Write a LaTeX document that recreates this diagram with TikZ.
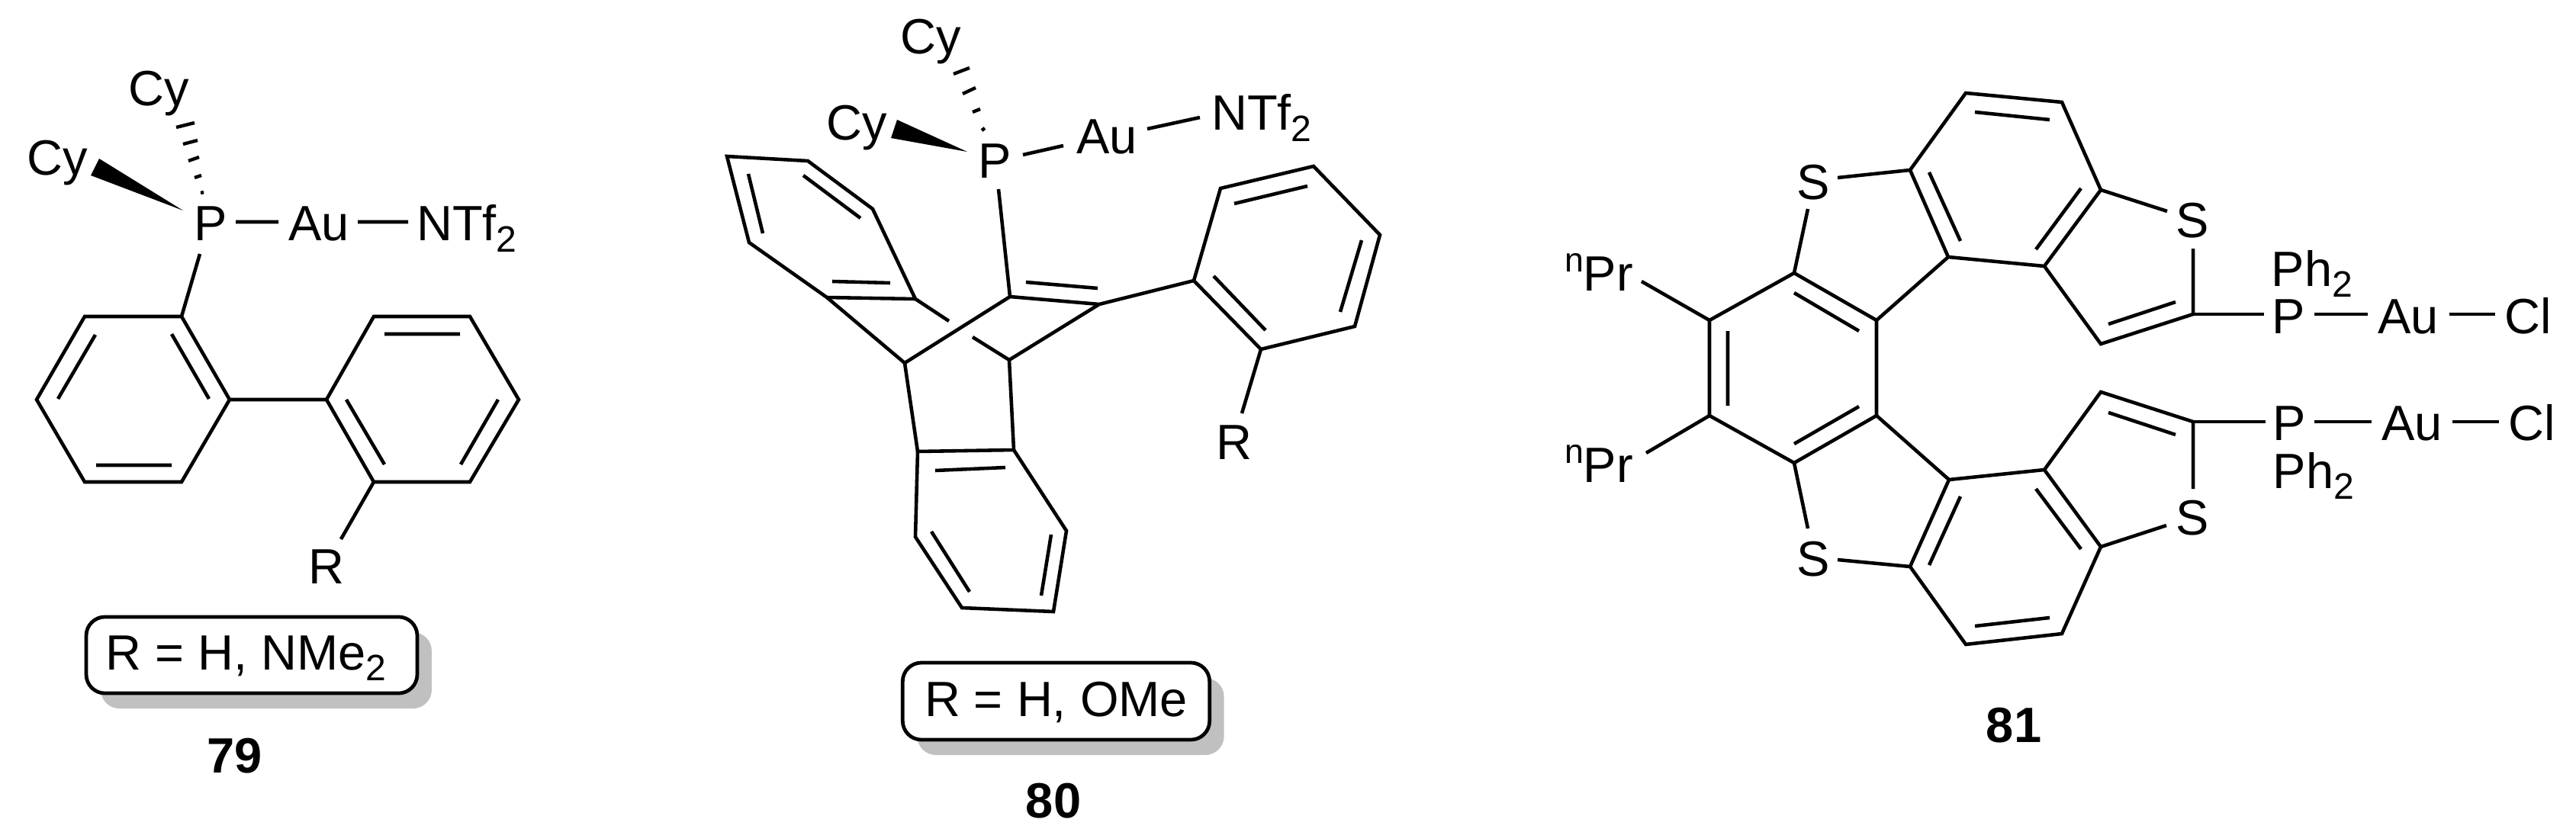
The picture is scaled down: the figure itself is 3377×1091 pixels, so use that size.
\documentclass[tikz,border=0pt]{standalone}
\usepackage{fontspec}
\setmainfont{Liberation Sans}
\usetikzlibrary{shadows}
\definecolor{shadowgray}{RGB}{192,192,192}
\newcommand{\subtwo}{\raisebox{-8pt}{\fontsize{27.4}{28}\selectfont 2}}
\newcommand{\supn}{\raisebox{14.2pt}{\fontsize{25.5}{26}\selectfont n}}
\tikzset{
  atom/.style={anchor=base,inner sep=0pt,outer sep=0pt,font=\fontsize{37}{40}\selectfont},
  cmpd/.style={anchor=base,inner sep=0pt,outer sep=0pt,font=\fontsize{37}{40}\selectfont\bfseries},
  bond/.style={line width=2.6pt,line cap=butt,line join=miter,miter limit=3},
  hashbar/.style={line width=2.5pt},
  wedgebond/.style={fill=black,draw=none},
  rbox/.style={draw=black,fill=white,line width=2.7pt,rounded corners=14pt,inner sep=0pt,
    font=\fontsize{37}{40}\selectfont,text height=26pt,text depth=3.4pt,anchor=center,
    drop shadow={shadow xshift=10.8pt,shadow yshift=-11.4pt,opacity=1,fill=shadowgray}}
}
\begin{document}
\begin{tikzpicture}[x=0.02cm,y=-0.02cm]
\useasboundingbox (0,0) rectangle (3377,1091);
% ---------- vertices of 79, 80, 81
\foreach \n/\x/\y in {
 a1/111/415,a2/238/415,a3/301/524,a4/238/632,a5/111/632,a6/48/524,
 ai1/125/439,ai2/76/523,ai3/225/438,ai4/274/523,ai5/126/610,ai6/225/610,
 b1/490/415,b2/616/415,b3/680/524,b4/616/632,b5/490/632,b6/428/524,
 bi1/504/438,bi2/603/438,bi3/454/524,bi4/504/609,bi5/653/524,bi6/604/609,
 pa/262/333,pb/309/291,ub/365/291,uc/469/291,nc/535/291,rb/447/707,
 w1/240/276,w2/130/208,w3/119/230,
 %
 q1/1341/203,q2/1394/191,q3/1504/169,q4/1573/154,q5/1309/248,
 e1/1324/389,e2/1441/399,ei1/1345/370,ei2/1439/378,
 f1/1565/368,f2/1600/247,f3/1722/218,f4/1809/308,f5/1776/428,f6/1653/458,
 fi1/1618/267,fi2/1714/244,fi3/1785/315,fi4/1757/409,fi5/1591/362,fi6/1659/433,
 r8/1628/542,
 g1/953/205,g2/1059/211,g3/1144/274,g4/1200/392,g5/1084/390,g6/982/318,
 gi1/981/228,gi2/1000/306,gi3/1053/230,gi4/1128/286,gi5/1091/369,gi6/1167/371,
 h1/1186/476,h2/1323/472,h3/1244/421,h4/1275/442,
 k1/1203/592,k2/1329/590,k3/1398/696,k4/1381/802,k5/1261/797,k6/1200/704,
 ki1/1226/617,ki2/1318/613,ki3/1221/697,ki4/1271/776,ki5/1378/701,ki6/1365/781,
 v1/1268/199,v2/1176/157,v3/1168/181,
 %
 c1/2241/420,c2/2352/358,c3/2460/420,c4/2460/545,c5/2352/607,c6/2241/545,
 ci1/2265/434,ci2/2265/532,ci3/2352/384,ci4/2437/434,ci5/2437/533,ci6/2352/582,
 s1a/2370/274,s1b/2409/233,s2a/2370/693,s2b/2409/734,
 pr1/2152/369,pr2/2158/594,
 m1/2504/223,m2/2577/122,m3/2703/134,m4/2754/249,m5/2680/349,m6/2554/337,
 mi1/2589/147,mi2/2687/157,mi3/2529/226,mi4/2570/316,mi5/2728/247,mi6/2669/327,
 n1/2504/743,n2/2577/845,n3/2703/831,n4/2754/717,n5/2680/616,n6/2555/629,
 ni1/2589/821,ni2/2687/810,ni3/2529/741,ni4/2570/651,ni5/2728/720,ni6/2669/641,
 t1/2754/451,t2/2875/412,t3/2875/326,t4/2841/277,ti1/2764/425,ti2/2852/396,
 o1/2754/514,o2/2875/553,o3/2875/641,o4/2840/689,oi1/2764/541,oi2/2852/570,
 x1/2968/412,x2/3034/412,x3/3104/412,x4/3211/412,x5/3271/412,
 y1/2970/553,y2/3034/553,y3/3109/553,y4/3215/553,y5/3276/553}
 \coordinate (\n) at (\x,\y);
% ---------- compound 79
\node[atom] (P79) at (276,316) {P};
\node[atom] (Au79) at (418,316) {Au};
\node[atom] (N79) at (612,316) {NTf\subtwo};
\node[atom] (CyA79) at (208,139) {Cy};
\node[atom] (CyB79) at (75,230) {Cy};
\node[atom] (R79) at (428,765) {R};
\node[rbox,minimum width=247pt,minimum height=57pt] (box79) at (330,859) {R = H, NMe\subtwo\kern8.5pt};
\node[cmpd] (lab79) at (308,1013) {79};
\draw[bond] (a1)--(a2)--(a3)--(a4)--(a5)--(a6)--cycle;
\draw[bond] (ai1)--(ai2) (ai3)--(ai4) (ai5)--(ai6);
\draw[bond] (b1)--(b2)--(b3)--(b4)--(b5)--(b6)--cycle;
\draw[bond] (bi1)--(bi2) (bi3)--(bi4) (bi5)--(bi6);
\draw[bond] (a3)--(b6) (pa)--(a2) (pb)--(ub) (uc)--(nc) (b5)--(rb);
\path[wedgebond] (w1)--(w2)--(w3)--cycle;
\draw[hashbar] (231,167)--(255,161) (240,189)--(259,184) (247,211)--(261,206) (255,233)--(264,230) (263,253)--(267,252);
% ---------- compound 80
\node[atom] (P80) at (1304,234) {P};
\node[atom] (Au80) at (1451,202) {Au};
\node[atom] (N80) at (1654,171) {NTf\subtwo};
\node[atom] (CyA80) at (1220,71) {Cy};
\node[atom] (CyB80) at (1123,184) {Cy};
\node[atom] (R80) at (1618,602) {R};
\node[rbox,minimum width=229pt,minimum height=57.5pt] (box80) at (1384.5,919.5) {R = H, OMe};
\node[cmpd] (lab80) at (1381,1072) {80};
\draw[bond] (q1)--(q2) (q3)--(q4) (q5)--(e1) (e1)--(e2) (ei1)--(ei2) (e2)--(f1) (f6)--(r8);
\draw[bond] (f1)--(f2)--(f3)--(f4)--(f5)--(f6)--cycle;
\draw[bond] (fi1)--(fi2) (fi3)--(fi4) (fi5)--(fi6);
\draw[bond] (g1)--(g2)--(g3)--(g4)--(g5)--(g6)--cycle;
\draw[bond] (gi1)--(gi2) (gi3)--(gi4) (gi5)--(gi6);
\draw[bond] (g5)--(h1)--(e1) (g4)--(h3) (h4)--(h2)--(e2);
\draw[bond] (h1)--(k1) (h2)--(k2);
\draw[bond] (k1)--(k2)--(k3)--(k4)--(k5)--(k6)--cycle;
\draw[bond] (ki1)--(ki2) (ki3)--(ki4) (ki5)--(ki6);
\path[wedgebond] (v1)--(v2)--(v3)--cycle;
\draw[hashbar] (1250,97)--(1271,89) (1262,123)--(1279,115) (1275,147)--(1285,143) (1287,171)--(1291,168);
% ---------- compound 81
\node[atom] (S1) at (2377,261) {S};
\node[atom] (S2) at (2377,755) {S};
\node[atom] (S3) at (2874,311) {S};
\node[atom] (S4) at (2874,701) {S};
\node[atom] (Pr1) at (2096,381) {\supn Pr};
\node[atom] (Pr2) at (2096,632) {\supn Pr};
\node[atom] (P81a) at (3000,437) {P};
\node[atom] (Au81a) at (3157,437) {Au};
\node[atom] (Cl81a) at (3314,437) {Cl};
\node[atom] (Ph81a) at (3031,375) {Ph\subtwo};
\node[atom] (P81b) at (3001,577) {P};
\node[atom] (Au81b) at (3162,577) {Au};
\node[atom] (Cl81b) at (3319,577) {Cl};
\node[atom] (Ph81b) at (3033,640) {Ph\subtwo};
\node[cmpd] (lab81) at (2640,973) {81};
\draw[bond] (c1)--(c2)--(c3)--(c4)--(c5)--(c6)--cycle;
\draw[bond] (ci1)--(ci2) (ci3)--(ci4) (ci5)--(ci6);
\draw[bond] (c2)--(s1a) (s1b)--(m1) (c5)--(s2a) (s2b)--(n1);
\draw[bond] (pr1)--(c1) (pr2)--(c6);
\draw[bond] (c3)--(m6) (c4)--(n6);
\draw[bond] (m1)--(m2)--(m3)--(m4)--(m5)--(m6)--cycle;
\draw[bond] (mi1)--(mi2) (mi3)--(mi4) (mi5)--(mi6);
\draw[bond] (n1)--(n2)--(n3)--(n4)--(n5)--(n6)--cycle;
\draw[bond] (ni1)--(ni2) (ni3)--(ni4) (ni5)--(ni6);
\draw[bond] (m4)--(t4) (m5)--(t1)--(t2)--(t3) (ti1)--(ti2);
\draw[bond] (n4)--(o4) (n5)--(o1)--(o2)--(o3) (oi1)--(oi2);
\draw[bond] (t2)--(x1) (x2)--(x3) (x4)--(x5);
\draw[bond] (o2)--(y1) (y2)--(y3) (y4)--(y5);
\end{tikzpicture}
\end{document}
